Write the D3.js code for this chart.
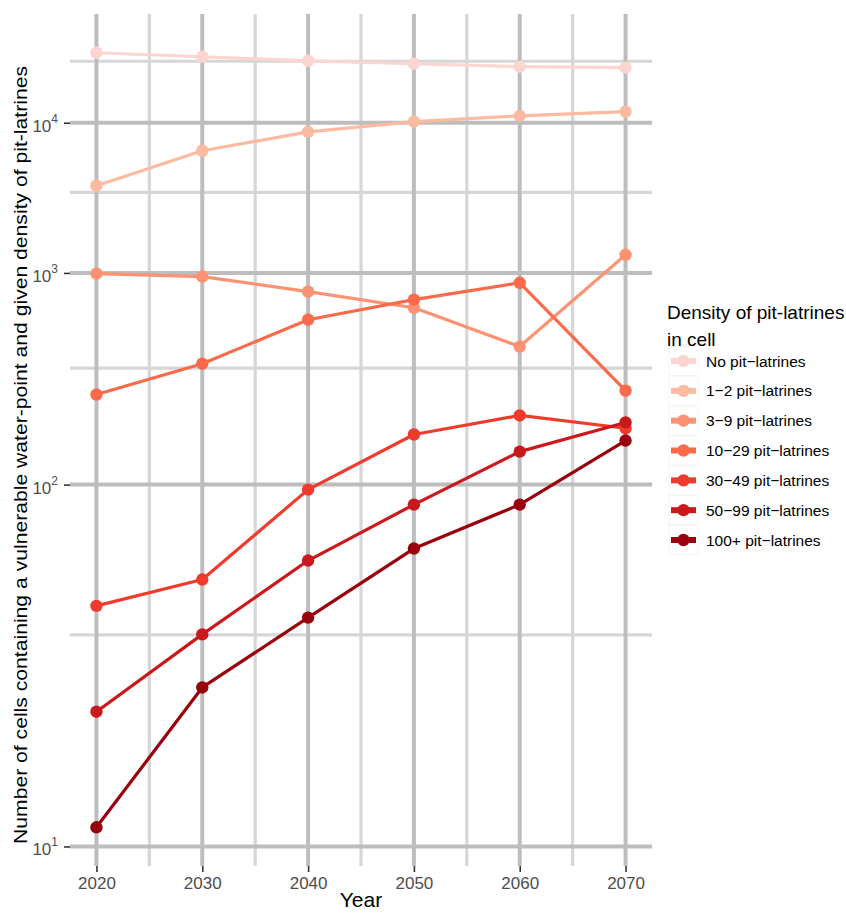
<!DOCTYPE html>
<html>
<head>
<meta charset="utf-8">
<script src="https://cdn.jsdelivr.net/npm/d3@7"></script>
<style>
  body { margin: 0; background: #fff; }
  svg { font-family: "Liberation Sans", Arial, sans-serif; }
</style>
</head>
<body>
<div id="chart"></div>
<script>
var years = [2020, 2030, 2040, 2050, 2060, 2070];

var categories = ["No pit\u2212latrines", "1\u22122 pit\u2212latrines", "3\u22129 pit\u2212latrines",
  "10\u221229 pit\u2212latrines", "30\u221249 pit\u2212latrines", "50\u221299 pit\u2212latrines",
  "100+ pit\u2212latrines"];

// cells per density class
var noPit     = [37500, 34600, 31900, 30100, 28400, 27900];
var pit1to2   = [3510, 6180, 8530, 10200, 11300, 12200];
var pit3to9   = [990, 953, 784, 640, 403, 1276];
var pit10to29 = [238, 332, 553, 708, 879, 248];
var pit30to49 = [38.5, 46.5, 95.7, 159, 192, 169];
var pit50to99 = [19.7, 31.7, 53.6, 84.1, 135, 179];
var pit100    = [10.9, 22.7, 35.5, 58.8, 84.1, 150];

var seriesValues = [noPit, pit1to2, pit3to9, pit10to29, pit30to49, pit50to99, pit100];

var colors = ["#fdd5d0", "#fcbba1", "#fc9272", "#fb6a4a", "#ef3b2c", "#cb181d", "#99000d"];

var yMajor = [1, 2, 3, 4];         // exponents of 10
var yMinor = [1.5, 2.5, 3.5, 4.5];
var xMajor = [2020, 2030, 2040, 2050, 2060, 2070];
var xMinor = [2025, 2035, 2045, 2055, 2065];

(function() {
  var width = 846, height = 915;
  var pL = 70, pR = 652, pT = 14, pB = 866;

  var svg = d3.select("#chart").append("svg")
    .attr("width", width).attr("height", height);

  // x with 5% expansion
  var xPad = (2070 - 2020) * 0.05;
  var x = d3.scaleLinear().domain([2020 - xPad, 2070 + xPad]).range([pL, pR]);

  // y: log10 of the count drawn on a log scale (as in the original)
  var allL = [];
  seriesValues.forEach(function(s) { s.forEach(function(v) { allL.push(Math.log10(v)); }); });
  var tMin = Math.log10(d3.min(allL)), tMax = Math.log10(d3.max(allL));
  var tPad = (tMax - tMin) * 0.05;
  var y = d3.scaleLog()
    .domain([Math.pow(10, tMin - tPad), Math.pow(10, tMax + tPad)])
    .range([pB, pT]);
  function yv(v) { return y(Math.log10(v)); }

  var grid = svg.append("g");
  grid.selectAll(".xminor").data(xMinor).enter().append("line")
    .attr("x1", d => x(d)).attr("x2", d => x(d)).attr("y1", pT).attr("y2", pB)
    .attr("stroke", "#d6d6d6").attr("stroke-width", 3.2);
  grid.selectAll(".yminor").data(yMinor).enter().append("line")
    .attr("y1", d => y(d)).attr("y2", d => y(d)).attr("x1", pL).attr("x2", pR)
    .attr("stroke", "#d6d6d6").attr("stroke-width", 3.2);
  grid.selectAll(".xmajor").data(xMajor).enter().append("line")
    .attr("x1", d => x(d)).attr("x2", d => x(d)).attr("y1", pT).attr("y2", pB)
    .attr("stroke", "#bdbdbd").attr("stroke-width", 4);
  grid.selectAll(".ymajor").data(yMajor).enter().append("line")
    .attr("y1", d => y(d)).attr("y2", d => y(d)).attr("x1", pL).attr("x2", pR)
    .attr("stroke", "#bdbdbd").attr("stroke-width", 4);

  // axes
  var xAxis = svg.append("g").attr("transform", "translate(0," + pB + ")")
    .call(d3.axisBottom(x).tickValues(xMajor).tickSize(6).tickPadding(5).tickFormat(d3.format("d")));
  xAxis.attr("font-size", null).attr("font-family", null);
  xAxis.select(".domain").remove();
  xAxis.selectAll(".tick line").attr("stroke", "#333").attr("stroke-width", 1.6);
  xAxis.selectAll(".tick text").attr("fill", "#4d4d4d").style("font-size", "17px");

  var yAxis = svg.append("g").attr("transform", "translate(" + pL + ",0)")
    .call(d3.axisLeft(y).tickValues(yMajor).tickSize(6).tickPadding(6).tickFormat(""));
  yAxis.attr("font-size", null).attr("font-family", null);
  yAxis.select(".domain").remove();
  yAxis.selectAll(".tick line").attr("stroke", "#333").attr("stroke-width", 1.6);
  yAxis.selectAll(".tick text").each(function(d) {
    var t = d3.select(this).attr("fill", "#4d4d4d").style("font-size", "17px").attr("dy", "0.5em");
    t.append("tspan").text("10");
    t.append("tspan").style("font-size", "12px").attr("dy", "-0.75em").text(d);
  });

  // lines and points
  var line = d3.line().x((d, i) => x(years[i])).y(d => yv(d));
  var series = svg.append("g").selectAll("g").data(seriesValues).enter().append("g");
  series.append("path")
    .attr("d", d => line(d))
    .attr("fill", "none")
    .attr("stroke", (d, i) => colors[i])
    .attr("stroke-width", 3.2)
    .attr("stroke-linejoin", "round");
  series.each(function(s, si) {
    d3.select(this).selectAll("circle").data(s).enter().append("circle")
      .attr("cx", (d, i) => x(years[i]))
      .attr("cy", d => yv(d))
      .attr("r", 6.2)
      .attr("fill", colors[si]);
  });

  // axis titles
  svg.append("text").attr("x", (pL + pR) / 2).attr("y", 907)
    .attr("text-anchor", "middle").style("font-size", "21px").attr("fill", "#000").text("Year");
  svg.append("text")
    .attr("transform", "translate(27," + ((pT + pB) / 2 + 15) + ") rotate(-90)")
    .attr("text-anchor", "middle").style("font-size", "19px").attr("fill", "#000")
    .attr("textLength", 778).attr("lengthAdjust", "spacingAndGlyphs")
    .text("Number of cells containing a vulnerable water-point and given density of pit-latrines");

  // legend
  var lg = svg.append("g").attr("transform", "translate(667,0)");
  lg.append("text").attr("x", 0).attr("y", 319).style("font-size", "19px").text("Density of pit-latrines");
  lg.append("text").attr("x", 0).attr("y", 346).style("font-size", "19px").text("in cell");
  var keyY = d3.scaleLinear().domain([0, 6]).range([361, 540]);
  var keys = lg.selectAll(".key").data(categories).enter().append("g")
    .attr("transform", (d, i) => "translate(0," + keyY(i) + ")");
  keys.append("rect").attr("x", 2).attr("y", -14.5).attr("width", 29).attr("height", 29)
    .attr("fill", "#fff").attr("stroke", "#f2f2f2").attr("stroke-width", 0.8);
  keys.append("line").attr("x1", 4).attr("x2", 29).attr("y1", 0).attr("y2", 0)
    .attr("stroke", (d, i) => colors[i]).attr("stroke-width", 6);
  keys.append("circle").attr("cx", 16.5).attr("cy", 0).attr("r", 6.2)
    .attr("fill", (d, i) => colors[i]);
  keys.append("text").attr("x", 39).attr("y", 5.5).style("font-size", "15.5px").attr("fill", "#000")
    .text(d => d);
})();
</script>
</body>
</html>
